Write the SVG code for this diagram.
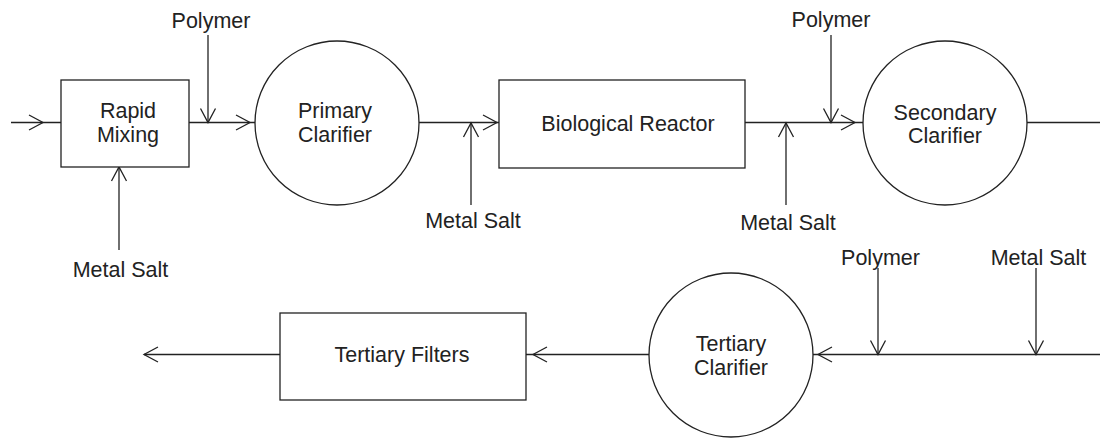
<svg xmlns="http://www.w3.org/2000/svg" xmlns:xlink="http://www.w3.org/1999/xlink" width="1100" height="439" viewBox="0 0 1100 439">
<style>
.shape{fill:#fff;stroke:#222;stroke-width:1.3}
.ln{fill:none;stroke:#222;stroke-width:1.3}
text{font-family:"Liberation Sans",Arial,sans-serif;font-size:21.5px;fill:#222;text-anchor:middle}
</style>
<defs>
<path id="ah" d="M-14,-7.5 L0,0 L-14,7.5" fill="none" stroke="#222" stroke-width="1.3"/>
</defs>
<rect width="1100" height="439" fill="#fff"/>
<g id="connectors">
<path class="ln" d="M11,122.5 H61"/>
<use xlink:href="#ah" transform="translate(43,122.5)"/>
<path class="ln" d="M189,122.5 H255"/>
<use xlink:href="#ah" transform="translate(250,122.5)"/>
<path class="ln" d="M208,35 V122.5"/>
<use xlink:href="#ah" transform="translate(208,122.5) rotate(90)"/>
<path class="ln" d="M119,250 V167"/>
<use xlink:href="#ah" transform="translate(119,167) rotate(-90)"/>
<path class="ln" d="M419,122.5 H499"/>
<use xlink:href="#ah" transform="translate(497,122.5)"/>
<path class="ln" d="M471,205 V123"/>
<use xlink:href="#ah" transform="translate(471,123) rotate(-90)"/>
<path class="ln" d="M745,122.5 H863"/>
<use xlink:href="#ah" transform="translate(855,122.5)"/>
<path class="ln" d="M786,205 V123"/>
<use xlink:href="#ah" transform="translate(786,123) rotate(-90)"/>
<path class="ln" d="M831,35 V122.5"/>
<use xlink:href="#ah" transform="translate(831,122.5) rotate(90)"/>
<path class="ln" d="M1027,122.5 H1100"/>
<path class="ln" d="M1100,354.5 H813"/>
<use xlink:href="#ah" transform="translate(818,354.5) rotate(180)"/>
<path class="ln" d="M878,268 V354.5"/>
<use xlink:href="#ah" transform="translate(878,354.5) rotate(90)"/>
<path class="ln" d="M1036,268 V354.5"/>
<use xlink:href="#ah" transform="translate(1036,354.5) rotate(90)"/>
<path class="ln" d="M649,354.5 H526"/>
<use xlink:href="#ah" transform="translate(533,354.5) rotate(180)"/>
<path class="ln" d="M280,354.5 H144"/>
<use xlink:href="#ah" transform="translate(144,354.5) rotate(180)"/>
</g>
<g id="rapid-mixing">
<rect class="shape" x="61" y="80" width="128" height="87"/>
<text x="128" y="118">Rapid</text>
<text x="128" y="142">Mixing</text>
</g>
<g id="primary-clarifier">
<circle class="shape" cx="337" cy="123" r="82"/>
<text x="335" y="118">Primary</text>
<text x="335" y="142">Clarifier</text>
</g>
<g id="biological-reactor">
<rect class="shape" x="499" y="80" width="246" height="88"/>
<text x="628" y="131">Biological Reactor</text>
</g>
<g id="secondary-clarifier">
<circle class="shape" cx="945" cy="123" r="82"/>
<text x="945" y="120">Secondary</text>
<text x="945" y="143">Clarifier</text>
</g>
<g id="tertiary-clarifier">
<circle class="shape" cx="731" cy="355" r="82"/>
<text x="731" y="351">Tertiary</text>
<text x="731" y="375">Clarifier</text>
</g>
<g id="tertiary-filters">
<rect class="shape" x="280" y="313" width="246" height="87"/>
<text x="402" y="362">Tertiary Filters</text>
</g>
<g id="labels">
<text x="211" y="27.5">Polymer</text>
<text x="120.5" y="276.5">Metal Salt</text>
<text x="473" y="228">Metal Salt</text>
<text x="831" y="27">Polymer</text>
<text x="788" y="230">Metal Salt</text>
<text x="880.5" y="265">Polymer</text>
<text x="1038.5" y="265">Metal Salt</text>
</g>
</svg>
